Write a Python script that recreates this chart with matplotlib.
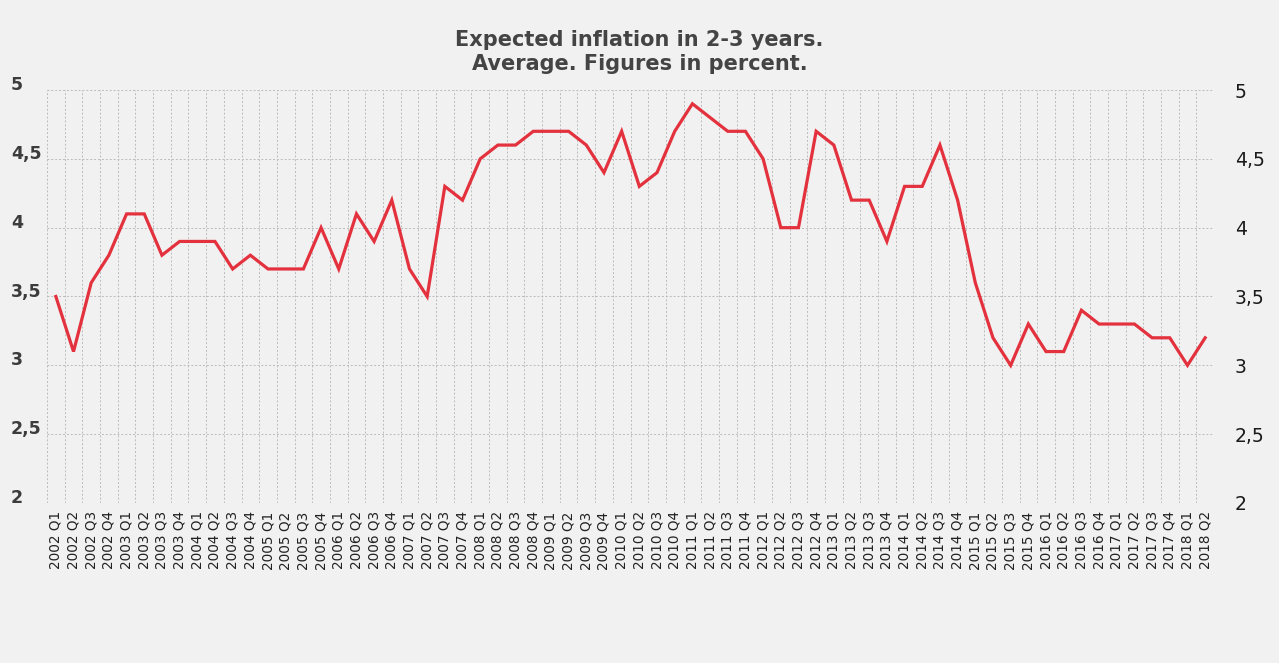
"""
Expected inflation in 2-3 years - line chart recreation
"""
import numpy as np
import matplotlib.pyplot as plt
from matplotlib.ticker import FixedLocator, FuncFormatter
from matplotlib.transforms import ScaledTranslation

years = list(range(2002, 2019))
quarters = [f"{y} Q{q}" for y in years for q in range(1, 5)][:66]

expected = [
    3.5, 3.1, 3.6, 3.8,   # 2002
    4.1, 4.1, 3.8, 3.9,   # 2003
    3.9, 3.9, 3.7, 3.8,   # 2004
    3.7, 3.7, 3.7, 4.0,   # 2005
    3.7, 4.1, 3.9, 4.2,   # 2006
    3.7, 3.5, 4.3, 4.2,   # 2007
    4.5, 4.6, 4.6, 4.7,   # 2008
    4.7, 4.7, 4.6, 4.4,   # 2009
    4.7, 4.3, 4.4, 4.7,   # 2010
    4.9, 4.8, 4.7, 4.7,   # 2011
    4.5, 4.0, 4.0, 4.7,   # 2012
    4.6, 4.2, 4.2, 3.9,   # 2013
    4.3, 4.3, 4.6, 4.2,   # 2014
    3.6, 3.2, 3.0, 3.3,   # 2015
    3.1, 3.1, 3.4, 3.3,   # 2016
    3.3, 3.3, 3.2, 3.2,   # 2017
    3.0, 3.2,             # 2018
]

y_ticks = [2, 2.5, 3, 3.5, 4, 4.5, 5]
title = "Expected inflation in 2-3 years.\nAverage. Figures in percent."

BG = '#f1f1f1'
RED = '#e3313d'
GRID = '#bbbbbb'


def comma_fmt(v, _pos):
    s = f"{v:g}"
    return s.replace('.', ',')


fig = plt.figure(figsize=(12.79, 6.63), dpi=100, facecolor=BG)
ax = fig.add_axes([47 / 1279, 1 - 503 / 663, (1214 - 47) / 1279, (503 - 90) / 663])
ax.set_facecolor(BG)

x = np.arange(len(expected))
ax.plot(x, expected, color=RED, linewidth=2.3, solid_joinstyle='miter', zorder=3)

ax.set_xlim(-0.5, len(expected) - 0.5)
ax.set_ylim(2, 5)

# category labels centred on points, grid lines between categories
ax.set_xticks(x)
ax.set_xticklabels(quarters, rotation=90, fontsize=9.8, color='#222222')
ax.xaxis.set_minor_locator(FixedLocator(np.arange(-0.5, len(expected), 1.0)))
ax.tick_params(axis='x', which='both', length=0, pad=6)
ax.grid(True, axis='x', which='minor', linestyle=(0, (2, 2)), color=GRID, linewidth=0.7)

ax.set_yticks(y_ticks)
ax.yaxis.set_major_formatter(FuncFormatter(comma_fmt))
ax.tick_params(axis='y', length=0, pad=26, labelsize=12.5, labelcolor='#3c3c3c')
for lab in ax.get_yticklabels():
    lab.set_horizontalalignment('left')
    lab.set_fontweight('bold')
    lab.set_transform(lab.get_transform() + ScaledTranslation(0, 5 / 72, fig.dpi_scale_trans))
ax.grid(True, axis='y', which='major', linestyle=(0, (2, 2)), color=GRID, linewidth=0.7)

for s in ax.spines.values():
    s.set_visible(False)

ax2 = ax.twinx()
ax2.set_ylim(2, 5)
ax2.set_yticks(y_ticks)
ax2.yaxis.set_major_formatter(FuncFormatter(comma_fmt))
ax2.tick_params(axis='y', length=0, pad=15, labelsize=13.5, labelcolor='#1a1a1a')
for s in ax2.spines.values():
    s.set_visible(False)

fig.text(0.5, 1 - 52 / 663, title, ha='center', va='center', fontsize=15,
         fontweight='bold', color='#444444', linespacing=1.3)

fig.savefig('out.png', dpi=100, facecolor=BG)
